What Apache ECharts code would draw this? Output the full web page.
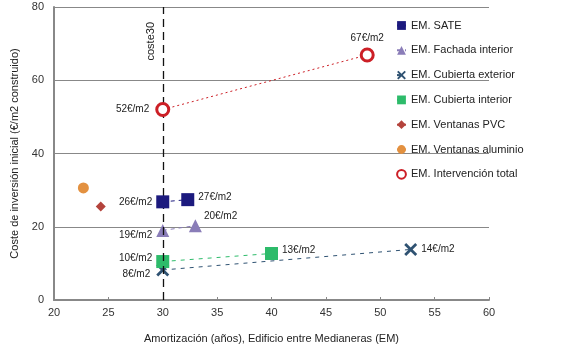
<!DOCTYPE html>
<html>
<head>
<meta charset="utf-8">
<script src="https://cdn.jsdelivr.net/npm/echarts@6/dist/echarts.min.js"></script>
<style>
  html, body { margin: 0; padding: 0; background: #fff; }
  #chart { width: 567px; height: 353px; }
</style>
</head>
<body>
<div id="chart"></div>
<script>
// datos: [amortizacion (años), coste (€/m2)]
var sate = [[30, 26.8], [32.3, 27.4]];
var sateLabels = ['26€/m2', '27€/m2'];
var fachada = [[30, 19], [33, 20.3]];
var fachadaLabels = ['19€/m2', '20€/m2'];
var cubExt = [[30, 8.2], [52.8, 13.8]];
var cubExtLabels = ['8€/m2', '14€/m2'];
var cubInt = [[30, 10.5], [40, 12.7]];
var cubIntLabels = ['10€/m2', '13€/m2'];
var ventPVC = [[24.3, 25.5]];
var ventAlu = [[22.7, 30.6]];
var total = [[30, 52], [48.8, 66.9]];
var totalLabels = ['52€/m2', '67€/m2'];
var coste30 = 30;

var seriesNames = ['EM. SATE', 'EM. Fachada interior', 'EM. Cubierta exterior', 'EM. Cubierta interior',
                   'EM. Ventanas PVC', 'EM. Ventanas aluminio', 'EM. Intervención total'];

var crossPath = 'path://M0,3 L3,0 L10,7 L17,0 L20,3 L13,10 L20,17 L17,20 L10,13 L3,20 L0,17 L7,10 Z';

// puntos con etiqueta
function pts(data, labels, pos) {
    return data.map(function (d, i) {
        return {
            value: d,
            label: {
                show: true,
                formatter: labels[i],
                position: pos[i][0],
                offset: pos[i][1],
                distance: 4
            }
        }
    })
}

var labelStyle = { fontFamily: 'Liberation Sans', fontSize: 10, color: '#222' };

var option = {
    animation: false,
    textStyle: { fontFamily: 'Liberation Sans' },
    grid: { left: 54, right: 78, top: 7, bottom: 53 },
    legend: {
        orient: 'vertical',
        left: 391,
        top: 15,
        itemGap: 13.8,
        itemWidth: 9,
        itemHeight: 11,
        textStyle: { fontSize: 11, color: '#222', fontFamily: 'Liberation Sans' },
        data: seriesNames
    },
    xAxis: {
        type: 'value',
        min: 20, max: 60, interval: 5,
        name: 'Amortización (años), Edificio entre Medianeras (EM)',
        nameLocation: 'middle',
        nameGap: 33,
        nameTextStyle: { fontSize: 11, color: '#222' },
        axisLine: { lineStyle: { color: '#888', width: 2 } },
        axisTick: { inside: true, length: 3, lineStyle: { color: '#888' } },
        axisLabel: { fontSize: 11, color: '#333', margin: 7 },
        splitLine: { show: false }
    },
    yAxis: {
        type: 'value',
        min: 0, max: 80, interval: 20,
        name: 'Coste de inversión inicial (€/m2 construido)',
        nameLocation: 'middle',
        nameGap: 32,
        nameTextStyle: { fontSize: 11, color: '#222' },
        axisLine: { show: true, lineStyle: { color: '#888', width: 2 } },
        axisTick: { show: false },
        axisLabel: { fontSize: 11, color: '#333', margin: 10 },
        splitLine: { lineStyle: { color: '#888', width: 1 } }
    },
    series: [
        {
            name: seriesNames[0], type: 'line', symbol: 'rect', symbolSize: 13,
            itemStyle: { color: '#1c1a7e' },
            lineStyle: { type: [4, 4], width: 1, color: '#1c1a7e' },
            label: labelStyle,
            data: pts(sate, sateLabels, [['left', [0, 0]], ['right', [0, -2]]]),
            markLine: {
                silent: true, symbol: 'none',
                lineStyle: { color: '#111', type: [8, 5], width: 1.3 },
                label: {
                    show: true, formatter: 'coste30', position: 'insideEndTop',
                    color: '#222', fontSize: 11, backgroundColor: '#fff', padding: [1, 10, 1, 2]
                },
                data: [{ xAxis: coste30 }]
            },
            z: 5
        },
        {
            name: seriesNames[1], type: 'line', symbol: 'triangle', symbolSize: 13,
            itemStyle: { color: '#8a7db8' },
            lineStyle: { type: [4, 4], width: 1, color: '#8a7db8' },
            label: labelStyle,
            data: pts(fachada, fachadaLabels, [['left', [0, 5]], ['right', [-2, -9]]]),
            z: 4
        },
        {
            name: seriesNames[2], type: 'line', symbol: crossPath, symbolSize: 13,
            itemStyle: { color: '#2f5272' },
            lineStyle: { type: [4, 5], width: 1, color: '#2f5272' },
            label: labelStyle,
            data: pts(cubExt, cubExtLabels, [['left', [-2, 4]], ['right', [0, 0]]]),
            z: 3
        },
        {
            name: seriesNames[3], type: 'line', symbol: 'rect', symbolSize: 13,
            itemStyle: { color: '#2dbb6a' },
            lineStyle: { type: [4, 5], width: 1, color: '#2dbb6a' },
            label: labelStyle,
            data: pts(cubInt, cubIntLabels, [['left', [0, -3]], ['right', [0, -3]]]),
            z: 4
        },
        {
            name: seriesNames[4], type: 'line', symbol: 'diamond', symbolSize: 10,
            itemStyle: { color: '#b4433c' },
            data: ventPVC
        },
        {
            name: seriesNames[5], type: 'line', symbol: 'circle', symbolSize: 11,
            itemStyle: { color: '#e39140' },
            data: ventAlu
        },
        {
            name: seriesNames[6], type: 'line', symbol: 'circle', symbolSize: 12,
            itemStyle: { color: '#fff', borderColor: '#cc1f26', borderWidth: 3 },
            lineStyle: { type: [2, 3], width: 1, color: '#cc1f26' },
            label: labelStyle,
            data: pts(total, totalLabels, [['left', [-2, 0]], ['top', [0, 0]]]),
            z: 5
        }
    ]
};

var chart = echarts.init(document.getElementById('chart'));
chart.setOption(option);
</script>
</body>
</html>
